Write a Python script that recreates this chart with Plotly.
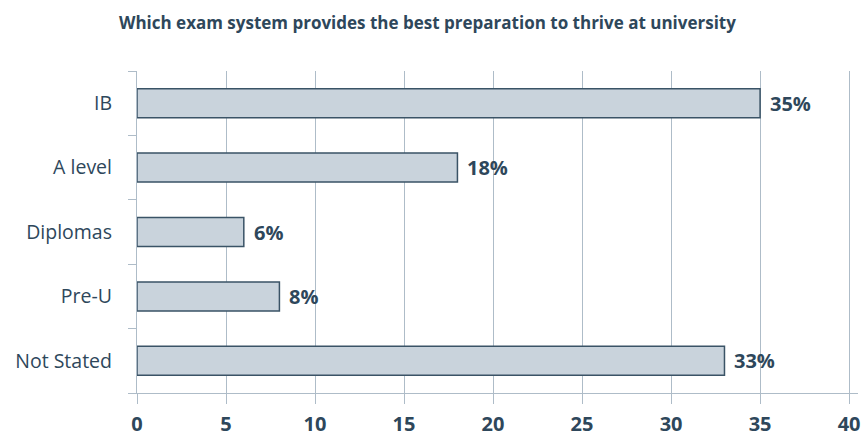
import plotly.graph_objects as go

categories = ["IB", "A level", "Diplomas", "Pre-U", "Not Stated"]
values = [35, 18, 6, 8, 33]
x_ticks = [0, 5, 10, 15, 20, 25, 30, 35, 40]

ink = "#2e475b"
grid = "#aebcc8"
font_family = "Open Sans, Noto Sans, DejaVu Sans, sans-serif"

fig = go.Figure(
    go.Bar(
        y=categories,
        x=values,
        orientation="h",
        marker=dict(color="#c9d3dc", line=dict(color="#3a5366", width=1.5)),
        hoverinfo="skip",
    )
)

# value labels just past the end of each bar
for cat, val in zip(categories, values):
    fig.add_annotation(
        x=val,
        y=cat,
        text=f"{val}%",
        showarrow=False,
        xanchor="left",
        yanchor="middle",
        xshift=8,
        font=dict(family=font_family, size=20, color=ink, weight="bold"),
    )

fig.update_layout(
    width=867,
    height=441,
    margin=dict(l=137, r=9, t=71, b=48),
    paper_bgcolor="white",
    plot_bgcolor="white",
    bargap=0.55,
    showlegend=False,
    font=dict(family=font_family, color=ink),
    title=dict(
        text="Which exam system provides the best preparation to thrive at university",
        x=0.493,
        xanchor="center",
        y=0.948,
        yanchor="middle",
        font=dict(family=font_family, size=17, color=ink, weight="bold"),
    ),
)

fig.update_xaxes(
    range=[0, 40.5],
    tickvals=x_ticks,
    ticktext=[str(t) for t in x_ticks],
    automargin=False,
    showgrid=True,
    gridcolor=grid,
    gridwidth=1.2,
    zeroline=False,
    showline=True,
    linecolor=grid,
    linewidth=1.2,
    ticks="outside",
    ticklen=10,
    tickcolor=grid,
    tickwidth=1.2,
    tickfont=dict(family=font_family, size=20, color=ink, weight="bold"),
    ticklabelstandoff=3,
)

fig.update_yaxes(
    categoryorder="array",
    categoryarray=categories[::-1],
    autorange=True,
    automargin=False,
    showgrid=False,
    showline=True,
    linecolor=grid,
    linewidth=1.2,
    ticks="outside",
    tickson="boundaries",
    ticklen=8,
    tickcolor=grid,
    tickwidth=1.2,
    tickfont=dict(family=font_family, size=19.5, color=ink),
    ticklabelstandoff=20,
)

fig.write_html("out.html")
